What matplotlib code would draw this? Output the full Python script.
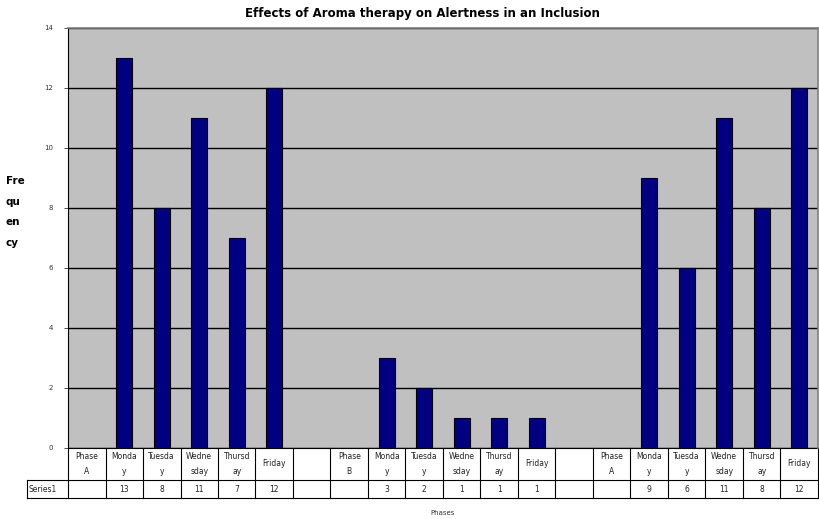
import matplotlib.pyplot as plt
import matplotlib.transforms as mtransforms

categories = ["Phase\nA", "Monda\ny", "Tuesda\ny", "Wedne\nsday", "Thursd\nay", "Friday", "",
              "Phase\nB", "Monda\ny", "Tuesda\ny", "Wedne\nsday", "Thursd\nay", "Friday", "",
              "Phase\nA", "Monda\ny", "Tuesda\ny", "Wedne\nsday", "Thursd\nay", "Friday"]
values = [None, 13, 8, 11, 7, 12, None,
          None, 3, 2, 1, 1, 1, None,
          None, 9, 6, 11, 8, 12]
series_name = "Series1"
title = "Effects of Aroma therapy on Alertness in an Inclusion"

fig = plt.figure(figsize=(8.2, 5.19), dpi=100)
ax = fig.add_axes([68 / 820, 71 / 519, 750 / 820, 420 / 519])
ax.set_facecolor("#c0c0c0")

xs = [i for i, v in enumerate(values) if v is not None]
hs = [v for v in values if v is not None]
ax.bar(xs, hs, width=0.42, color="#000080", edgecolor="black", linewidth=0.8, zorder=3)

ax.set_xlim(-0.5, len(categories) - 0.5)
ax.set_ylim(0, 14)
ax.set_yticks(range(0, 15, 2))
ax.yaxis.grid(True, color="black", linewidth=1.0, zorder=1)
ax.set_xticks([])
ax.tick_params(axis="y", labelsize=5, length=3, width=0.6, colors="#333333", pad=8)
for s in ["top", "right"]:
    ax.spines[s].set_color("#808080")
    ax.spines[s].set_linewidth(1.2)
ax.spines["left"].set_color("black")
ax.spines["bottom"].set_visible(False)

# data table under the chart
tr = mtransforms.blended_transform_factory(ax.transData, ax.transAxes)
row1 = -32 / 420
row2 = -50 / 420
left = -0.5 - 41 / 37.5
right = len(categories) - 0.5
kw = dict(transform=tr, clip_on=False, color="black", linewidth=0.8)
ax.plot([-0.5, right], [0, 0], **kw)
ax.plot([left, right], [row1, row1], **kw)
ax.plot([left, right], [row2, row2], **kw)
ax.plot([left, left], [row1, row2], **kw)
for i in range(len(categories) + 1):
    ax.plot([i - 0.5, i - 0.5], [0, row2], **kw)
for i, (c, v) in enumerate(zip(categories, values)):
    ax.text(i, row1 / 2, c, transform=tr, ha="center", va="center",
            fontsize=5.5, linespacing=1.8, color="#222222")
    if v is not None:
        ax.text(i, (row1 + row2) / 2, str(v), transform=tr, ha="center", va="center",
                fontsize=5.5, color="#222222")
ax.text(left + 0.05, (row1 + row2) / 2, series_name, transform=tr, ha="left", va="center",
        fontsize=5.5, color="#222222")

ax.text(0.5, -65 / 420, "Phases", transform=ax.transAxes, ha="center", va="center",
        fontsize=5, color="#333333")
fig.text(422 / 820, 1 - 13 / 519, title, ha="center", va="center",
         fontsize=8.5, fontweight="bold")
fig.text(6 / 820, 1 - 212 / 519, "Fre\nqu\nen\ncy", ha="left", va="center",
         fontsize=7.5, fontweight="bold", linespacing=2.3)

fig.savefig("out.png", dpi=100)
